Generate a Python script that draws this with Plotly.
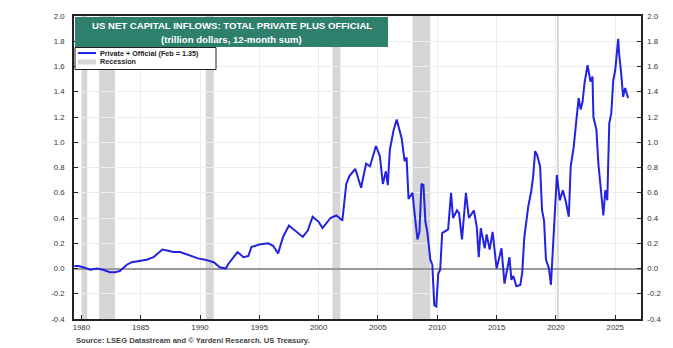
import plotly.graph_objects as go

# ---- data ----
dates = [
    "1979-06", "1979-10", "1980-03", "1980-10", "1981-05", "1981-11", "1982-06", "1982-11",
    "1983-04", "1983-11", "1984-04", "1985-01", "1985-07", "1986-02", "1986-11", "1987-05",
    "1987-10", "1988-05", "1988-12", "1989-06", "1989-11", "1990-06", "1991-03", "1991-09",
    "1992-03", "1992-06", "1993-03", "1993-09", "1994-02", "1994-05", "1995-01", "1995-10",
    "1996-03", "1996-08", "1997-01", "1997-07", "1998-03", "1998-09", "1999-02", "1999-07",
    "2000-01", "2000-05", "2001-01", "2001-07", "2002-01", "2002-05", "2002-08", "2003-02",
    "2003-08", "2004-01", "2004-05", "2004-11", "2005-03", "2005-06", "2005-09", "2005-11",
    "2006-01", "2006-05", "2006-08", "2007-01", "2007-04", "2007-06", "2007-08", "2007-12",
    "2008-02", "2008-05", "2008-07", "2008-09", "2008-11", "2009-01", "2009-03", "2009-06",
    "2009-08", "2009-10", "2009-12", "2010-02", "2010-04", "2010-06", "2010-12", "2011-03",
    "2011-05", "2011-09", "2011-11", "2012-02", "2012-06", "2012-09", "2013-02", "2013-05",
    "2013-07", "2013-09", "2014-01", "2014-03", "2014-06", "2014-09", "2015-01", "2015-06",
    "2015-09", "2016-02", "2016-04", "2016-06", "2016-09", "2017-01", "2017-03", "2017-05",
    "2017-09", "2017-12", "2018-02", "2018-04", "2018-06", "2018-09", "2018-11", "2019-01",
    "2019-03", "2019-06", "2019-08", "2019-10", "2019-12", "2020-02", "2020-05", "2020-08",
    "2020-11", "2021-02", "2021-04", "2021-07", "2021-09", "2021-12", "2022-02", "2022-04",
    "2022-06", "2022-09", "2022-12", "2023-02", "2023-03", "2023-06", "2023-08", "2023-11",
    "2024-01", "2024-03", "2024-05", "2024-07", "2024-09", "2024-11", "2025-01", "2025-04",
    "2025-05", "2025-07", "2025-09", "2025-11", "2026-02",
]
private_official = [
    0.02, 0.02, 0.01, -0.01, 0.00, -0.01, -0.03, -0.03,
    -0.02, 0.03, 0.05, 0.06, 0.07, 0.09, 0.15, 0.14,
    0.13, 0.13, 0.11, 0.09, 0.08, 0.07, 0.05, 0.01,
    0.00, 0.04, 0.13, 0.09, 0.10, 0.17, 0.19, 0.20,
    0.18, 0.12, 0.25, 0.34, 0.29, 0.25, 0.30, 0.41,
    0.37, 0.32, 0.40, 0.42, 0.38, 0.67, 0.73, 0.79,
    0.64, 0.83, 0.81, 0.97, 0.89, 0.67, 0.77, 0.66,
    0.94, 1.10, 1.18, 1.03, 0.85, 0.88, 0.55, 0.60,
    0.44, 0.23, 0.29, 0.67, 0.66, 0.37, 0.29, 0.07,
    0.03, -0.29, -0.30, -0.04, -0.01, 0.28, 0.31, 0.60,
    0.40, 0.46, 0.44, 0.23, 0.60, 0.40, 0.46, 0.33,
    0.09, 0.32, 0.16, 0.27, 0.15, 0.29, 0.00, 0.16,
    -0.12, 0.09, -0.09, -0.06, -0.14, -0.13, -0.03, 0.24,
    0.49, 0.61, 0.73, 0.93, 0.90, 0.81, 0.46, 0.38,
    0.07, 0.00, -0.13, 0.17, 0.36, 0.74, 0.54, 0.62,
    0.53, 0.41, 0.81, 0.96, 1.12, 1.35, 1.26, 1.32,
    1.47, 1.61, 1.48, 1.52, 1.20, 1.10, 0.83, 0.54,
    0.42, 0.62, 0.54, 1.15, 1.23, 1.49, 1.57, 1.82,
    1.70, 1.55, 1.36, 1.43, 1.35,
]
recession_start = ["1980-01-01", "1981-07-01", "1990-07-01", "2001-03-01", "2007-12-01", "2020-02-01"]
recession_end = ["1980-07-01", "1982-11-01", "1991-03-01", "2001-11-01", "2009-06-01", "2020-04-01"]
tick_years = [1980, 1985, 1990, 1995, 2000, 2005, 2010, 2015, 2020, 2025]
y_ticks = [-0.4, -0.2, 0.0, 0.2, 0.4, 0.6, 0.8, 1.0, 1.2, 1.4, 1.6, 1.8, 2.0]

title_line1 = "US NET CAPITAL INFLOWS: TOTAL PRIVATE PLUS OFFICIAL"
title_line2 = "(trillion dollars, 12-month sum)"
legend_line = "Private + Official (Feb = 1.35)"
legend_rec = "Recession"
source = "Source: LSEG Datastream and \u00a9 Yardeni Research. US Treasury."

W, H = 673, 348
L, R, T, B = 74, 32, 16, 29
PW, PH = W - L - R, H - T - B


def px(x):
    return (x - L) / PW


def py(y):
    return (H - B - y) / PH


FONT = "Liberation Sans, Arial, sans-serif"
BLUE = "#2222e0"

fig = go.Figure()
fig.add_trace(go.Scatter(x=dates, y=private_official, mode="lines",
                         line=dict(color=BLUE, width=2), showlegend=False,
                         hoverinfo="x+y"))
# dummy trace to bring up the right axis
fig.add_trace(go.Scatter(x=[dates[0]], y=[0], yaxis="y2", mode="markers",
                         marker=dict(size=0.1, opacity=0), showlegend=False,
                         hoverinfo="skip"))

shapes = []
for s, e in zip(recession_start, recession_end):
    shapes.append(dict(type="rect", xref="x", yref="paper", x0=s, x1=e, y0=0, y1=1,
                       fillcolor="#d6d6d6", line=dict(width=0), layer="below"))

# title box
shapes.append(dict(type="rect", xref="paper", yref="paper", x0=px(75), x1=px(388),
                   y0=py(47), y1=py(17), fillcolor="#2f7f6d", line=dict(width=0), layer="above"))
# legend box
shapes.append(dict(type="rect", xref="paper", yref="paper", x0=px(75), x1=px(216),
                   y0=py(69.5), y1=py(47.5), fillcolor="white",
                   line=dict(color="#222", width=1), layer="above"))
shapes.append(dict(type="line", xref="paper", yref="paper", x0=px(78), x1=px(96),
                   y0=py(53), y1=py(53), line=dict(color=BLUE, width=2), layer="above"))
shapes.append(dict(type="rect", xref="paper", yref="paper", x0=px(78), x1=px(96),
                   y0=py(64.5), y1=py(59.5), fillcolor="#d6d6d6", line=dict(width=0), layer="above"))

annotations = [
    dict(text="<b>" + title_line1 + "</b>", xref="paper", yref="paper",
         x=px(231.5), y=py(25), xanchor="center", yanchor="middle", showarrow=False,
         font=dict(family=FONT, size=9.6, color="white")),
    dict(text="<b>" + title_line2 + "</b>", xref="paper", yref="paper",
         x=px(231.5), y=py(39), xanchor="center", yanchor="middle", showarrow=False,
         font=dict(family=FONT, size=9.6, color="white")),
    dict(text="<b>" + legend_line + "</b>", xref="paper", yref="paper",
         x=px(98), y=py(53), xanchor="left", yanchor="middle", showarrow=False,
         font=dict(family=FONT, size=7.2, color="#222")),
    dict(text="<b>" + legend_rec + "</b>", xref="paper", yref="paper",
         x=px(98), y=py(62), xanchor="left", yanchor="middle", showarrow=False,
         font=dict(family=FONT, size=7.2, color="#222")),
    dict(text="<b>" + source + "</b>", xref="paper", yref="paper",
         x=px(74), y=py(340), xanchor="left", yanchor="middle", showarrow=False,
         font=dict(family=FONT, size=7.6, color="#444")),
]

yaxis_common = dict(range=[-0.4, 2.0], tickvals=y_ticks,
                    ticktext=[f"{v:.1f}" for v in y_ticks],
                    ticks="inside", ticklen=4, tickcolor="#222",
                    showline=True, linecolor="#222", linewidth=1.5,
                    tickfont=dict(family=FONT, size=7.8, color="#333"),
                    fixedrange=True)

fig.update_layout(
    width=W, height=H,
    margin=dict(l=L, r=R, t=T, b=B, pad=0),
    paper_bgcolor="white", plot_bgcolor="white",
    showlegend=False,
    xaxis=dict(type="date", range=["1979-05-20", "2027-03-05"],
               tickvals=[f"{y}-01-01" for y in tick_years],
               ticktext=[str(y) for y in tick_years],
               ticks="inside", ticklen=4, tickcolor="#222",
               showline=True, linecolor="#222", linewidth=1.5, mirror=True,
               showgrid=True, gridcolor="#ececec", gridwidth=1,
               tickfont=dict(family=FONT, size=7.8, color="#333"),
               zeroline=False),
    yaxis=dict(**yaxis_common, side="left", showgrid=True, gridcolor="#ececec",
               zeroline=True, zerolinecolor="#9a9a9a", zerolinewidth=1.5,
               ticklabelstandoff=6),
    yaxis2=dict(**yaxis_common, side="right", overlaying="y", showgrid=False,
                zeroline=False, ticklabelstandoff=3),
    shapes=shapes,
    annotations=annotations,
)

fig.write_html("out.html")
